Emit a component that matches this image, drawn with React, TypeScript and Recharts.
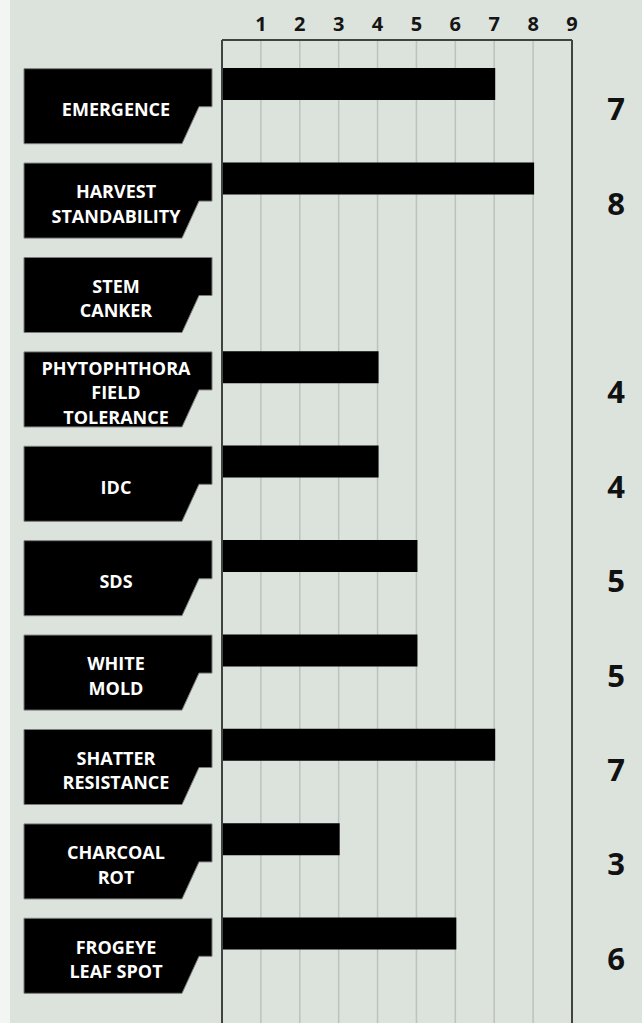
import { BarChart, Bar, XAxis, YAxis, CartesianGrid } from "recharts";

const categories = [
  "EMERGENCE",
  "HARVEST\nSTANDABILITY",
  "STEM\nCANKER",
  "PHYTOPHTHORA\nFIELD\nTOLERANCE",
  "IDC",
  "SDS",
  "WHITE\nMOLD",
  "SHATTER\nRESISTANCE",
  "CHARCOAL\nROT",
  "FROGEYE\nLEAF SPOT",
];
const ratings: (number | null)[] = [7, 8, null, 4, 4, 5, 5, 7, 3, 6];
const scaleTicks = [1, 2, 3, 4, 5, 6, 7, 8, 9];

const data = categories.map((name, i) => ({ name, rating: ratings[i] }));

const FONT = "'Open Sans', 'DejaVu Sans', sans-serif";
const BORDER = "#3f4441";

function ScaleTick({ x, y, payload }: any) {
  return (
    <text
      x={x}
      y={y - 17}
      textAnchor="middle"
      dominantBaseline="central"
      fontFamily={FONT}
      fontWeight={700}
      fontSize={20}
      fill="#151515"
    >
      {payload.value}
    </text>
  );
}

// black label plate with the clipped bottom-right corner
function CategoryTick({ x, y, payload }: any) {
  const lines = String(payload.value).split("\n");
  const top = y - 15.5;
  const h = 75;
  const right = x;
  const left = x - 188;
  const d = `M${left},${top} H${right} V${top + 38} H${right - 13} L${right - 30},${top + h} H${left} Z`;
  const mid = top + h / 2 + 3;
  const lh = 24.5;
  return (
    <g>
      <path d={d} fill="#000" stroke="#7a7a7a" strokeWidth={1} />
      {lines.map((ln, i) => (
        <text
          key={i}
          x={left + 92}
          y={mid + (i - (lines.length - 1) / 2) * lh}
          textAnchor="middle"
          dominantBaseline="central"
          fontFamily={FONT}
          fontWeight={700}
          fontSize={18}
          fill="#fff"
        >
          {ln}
        </text>
      ))}
    </g>
  );
}

function RatingTick({ x, y, payload }: any) {
  const r = ratings[categories.indexOf(payload.value)];
  if (r == null) return <g />;
  return (
    <text
      x={x + 44}
      y={y + 24}
      textAnchor="middle"
      dominantBaseline="central"
      fontFamily={FONT}
      fontWeight={700}
      fontSize={31}
      fill="#111"
    >
      {r}
    </text>
  );
}

export default function App() {
  return (
    <div
      style={{
        position: "fixed",
        left: 0,
        top: 0,
        width: 642,
        height: 1023,
        overflow: "hidden",
        background: "#dbe3dc",
      }}
    >
      <div
        style={{
          position: "absolute",
          left: 0,
          top: 0,
          width: 10,
          height: 1023,
          background: "#f2f5f2",
        }}
      />
      <div style={{ position: "absolute", left: 0, top: 0 }}>
        <BarChart
          width={642}
          height={1060}
          data={data}
          layout="vertical"
          margin={{ top: 10, right: 0, bottom: 0, left: 0 }}
          barSize={30}
        >
          <CartesianGrid horizontal={false} stroke="#bcc2bd" strokeWidth={1.5} />
          <XAxis
            type="number"
            orientation="top"
            domain={[0, 9]}
            ticks={scaleTicks}
            height={30}
            tickLine={false}
            tickSize={0}
            tickMargin={0}
            axisLine={{ stroke: BORDER, strokeWidth: 2 }}
            tick={<ScaleTick />}
          />
          <YAxis
            yAxisId="left"
            type="category"
            dataKey="name"
            width={222}
            tickLine={false}
            tickSize={0}
            tickMargin={10}
            padding={{ top: -3, bottom: 79 }}
            axisLine={{ stroke: BORDER, strokeWidth: 2 }}
            tick={<CategoryTick />}
            interval={0}
          />
          <YAxis
            yAxisId="right"
            orientation="right"
            type="category"
            dataKey="name"
            width={70}
            tickLine={false}
            tickSize={0}
            tickMargin={0}
            padding={{ top: -3, bottom: 79 }}
            axisLine={{ stroke: BORDER, strokeWidth: 2 }}
            tick={<RatingTick />}
            interval={0}
          />
          <Bar
            yAxisId="left"
            dataKey="rating"
            fill="#000"
            stroke="#000"
            strokeWidth={2}
            isAnimationActive={false}
          />
        </BarChart>
      </div>
    </div>
  );
}
